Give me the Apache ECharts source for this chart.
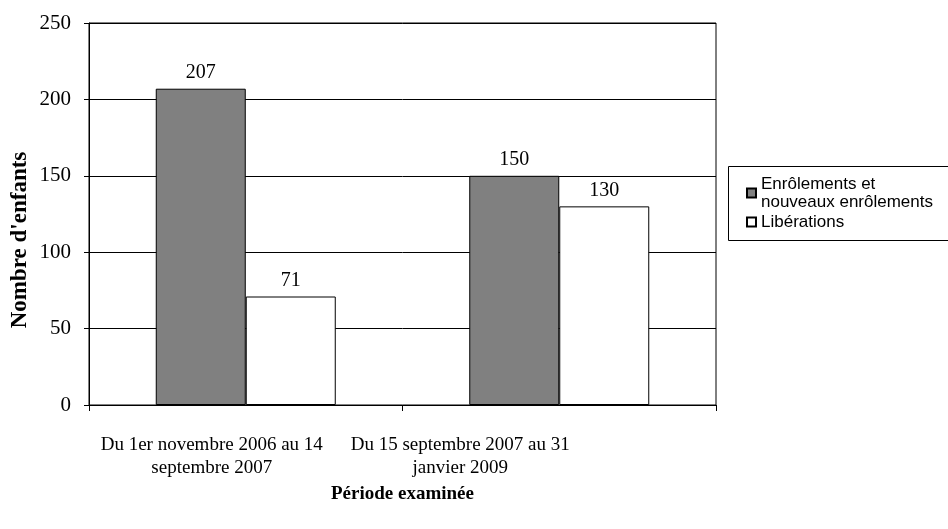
<!DOCTYPE html>
<html>
<head>
<meta charset="utf-8">
<script src="https://cdn.jsdelivr.net/npm/echarts@6/dist/echarts.min.js"></script>
<style>
  html, body { margin: 0; padding: 0; background: #fff; }
  #chart { width: 948px; height: 529px; }
</style>
</head>
<body>
<div id="chart"></div>
<script>
// données
const categories = ['Du 1er novembre 2006 au 14\nseptembre 2007', 'Du 15 septembre 2007 au 31\njanvier 2009'];
const enrolements = [207, 150];
const liberations = [71, 130];
const seriesNames = ['Enrôlements et\nnouveaux enrôlements', 'Libérations'];

const serif = '"Liberation Serif", "DejaVu Serif", serif';
const sans = '"Liberation Sans", Arial, sans-serif';

const chart = echarts.init(document.getElementById('chart'));
const labelStyle = { show: true, position: 'top', color: '#000', fontFamily: serif, fontSize: 20, distance: 6 };
// les libellés de catégorie sont décalés vers la gauche dans l'original
const catLabel = { color: '#000', fontFamily: serif, fontSize: 19, lineHeight: 23 };

chart.setOption({
  animation: false,
  grid: { left: 89, top: 23, width: 627, height: 382, show: true, borderColor: '#000', borderWidth: 1 },
  graphic: [
    {
      type: 'rect', left: 728, top: 166, z: 0,
      shape: { width: 230, height: 74 },
      style: { fill: '#fff', stroke: '#000', lineWidth: 1 }
    },
    {
      // titre de l'axe vertical
      type: 'text', x: 20, y: 240, rotation: Math.PI / 2,
      style: {
        text: "Nombre d'enfants", font: 'bold 23px ' + serif, fill: '#000',
        align: 'center', verticalAlign: 'middle'
      }
    }
  ],
  legend: {
    orient: 'vertical', left: 741, top: 170, z: 10,
    icon: 'rect', itemWidth: 9, itemHeight: 9, itemGap: 2,
    textStyle: { fontFamily: sans, fontSize: 17, color: '#000', lineHeight: 18 },
    data: seriesNames
  },
  xAxis: {
    type: 'category', data: categories,
    axisLine: { lineStyle: { color: '#000', width: 1 } },
    axisTick: { show: true, interval: 0, length: 6, lineStyle: { color: '#000' } },
    axisLabel: {
      interval: 0, hideOverlap: false,
      color: '#000', fontFamily: serif, fontSize: 19, lineHeight: 23, margin: 29,
      formatter: (v, i) => v.split('\n').map(s => '{c' + i + '|' + s + '}').join('\n'),
      rich: {
        c0: Object.assign({ padding: [0, 68, 0, 0] }, catLabel),
        c1: Object.assign({ padding: [0, 198, 0, 0] }, catLabel)
      }
    },
    name: 'Période examinée', nameLocation: 'middle', nameGap: 80,
    nameTextStyle: { fontFamily: serif, fontSize: 19, fontWeight: 'bold', color: '#000' }
  },
  yAxis: {
    type: 'value', min: 0, max: 250, interval: 50,
    axisLine: { show: true, lineStyle: { color: '#000', width: 1 } },
    axisTick: { show: true, length: 5, lineStyle: { color: '#000' } },
    splitLine: { lineStyle: { color: '#000', width: 1 } },
    axisLabel: { color: '#000', fontFamily: serif, fontSize: 21, margin: 18 }
  },
  series: [
    {
      name: seriesNames[0], type: 'bar', data: enrolements,
      barWidth: 90, barGap: '0%',
      itemStyle: { color: '#808080', borderColor: '#000', borderWidth: 1 },
      label: labelStyle
    },
    {
      name: seriesNames[1], type: 'bar', data: liberations,
      barWidth: 90,
      itemStyle: { color: '#fff', borderColor: '#000', borderWidth: 1 },
      label: labelStyle
    }
  ]
});
</script>
</body>
</html>
